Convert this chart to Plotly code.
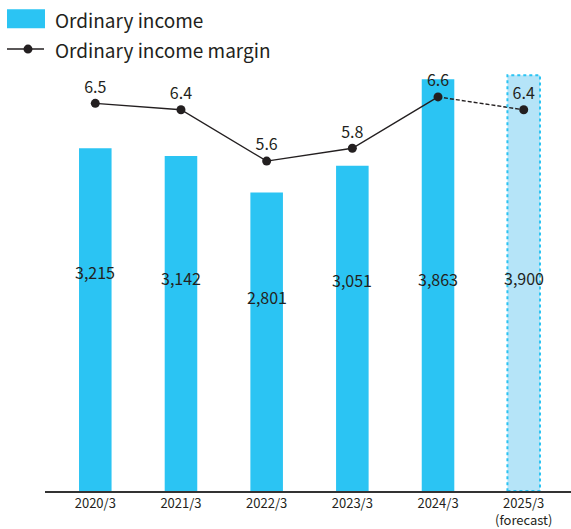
import plotly.graph_objects as go

# Fiscal years (March year-end)
periods = ["2020/3", "2021/3", "2022/3", "2023/3", "2024/3", "2025/3"]
tick_labels = ["2020/3", "2021/3", "2022/3", "2023/3", "2024/3", "2025/3<br>(forecast)"]
ordinary_income = [3215, 3142, 2801, 3051, 3863, 3900]
income_margin = [6.5, 6.4, 5.6, 5.8, 6.6, 6.4]
is_forecast = [False, False, False, False, False, True]
# heights (in income units) where the value labels sit inside the bars
label_heights = [2054, 1998, 1821, 1979, 1989, 1998]

FONT = "Noto Sans CJK JP"
BLUE = "#2bc4f3"
LIGHT_BLUE = "#b5e4f8"
INK = "#231f20"
BAR_W = 0.38
PLOT_W, PLOT_H = 526, 433

x_idx = list(range(len(periods)))
actual = [i for i in x_idx if not is_forecast[i]]
fc = [i for i in x_idx if is_forecast[i]]

fig = go.Figure()

fig.add_trace(go.Bar(
    x=actual, y=[ordinary_income[i] for i in actual],
    width=BAR_W, marker=dict(color=BLUE, line=dict(width=0)),
    showlegend=False, hoverinfo="skip",
))
fig.add_trace(go.Bar(
    x=fc, y=[ordinary_income[i] for i in fc],
    width=BAR_W, marker=dict(color=LIGHT_BLUE, line=dict(width=0)),
    showlegend=False, hoverinfo="skip",
))
# dashed outline around the forecast bar
for i in fc:
    fig.add_shape(type="rect", xref="x", yref="y",
                  x0=i - BAR_W / 2, x1=i + BAR_W / 2, y0=0, y1=ordinary_income[i],
                  line=dict(color=BLUE, width=2, dash="dot"), fillcolor="rgba(0,0,0,0)",
                  layer="above")

# margin line: solid for actuals, dashed into forecast
last_actual = actual[-1]
fig.add_trace(go.Scatter(
    x=actual, y=[income_margin[i] for i in actual], yaxis="y2",
    mode="lines+markers+text",
    line=dict(color=INK, width=1.4),
    marker=dict(color=INK, size=9),
    text=[f"{income_margin[i]:.1f}" for i in actual],
    textposition="top center",
    textfont=dict(family=FONT, size=16, color=INK),
    showlegend=False, hoverinfo="skip", cliponaxis=False,
))
fig.add_trace(go.Scatter(
    x=[last_actual] + fc, y=[income_margin[last_actual]] + [income_margin[i] for i in fc],
    yaxis="y2", mode="lines",
    line=dict(color=INK, width=1.4, dash="4px,2px"),
    showlegend=False, hoverinfo="skip",
))
fig.add_trace(go.Scatter(
    x=fc, y=[income_margin[i] for i in fc], yaxis="y2",
    mode="markers+text",
    marker=dict(color=INK, size=9),
    text=[f"{income_margin[i]:.1f}" for i in fc],
    textposition="top center",
    textfont=dict(family=FONT, size=16, color=INK),
    showlegend=False, hoverinfo="skip", cliponaxis=False,
))

# value labels inside the bars
for i in x_idx:
    fig.add_annotation(
        x=i, y=label_heights[i], text=f"{ordinary_income[i]:,}",
        showarrow=False, font=dict(family=FONT, size=16, color=INK),
    )

# legend drawn in the top-left corner
fig.add_shape(type="rect", xref="paper", yref="paper",
              x0=-38 / PLOT_W, x1=0 / PLOT_W, y0=1 + 32 / PLOT_H, y1=1 + 51 / PLOT_H,
              fillcolor=BLUE, line=dict(width=0))
fig.add_annotation(xref="paper", yref="paper", x=8 / PLOT_W, y=1 + 41 / PLOT_H,
                   xanchor="left", yanchor="middle", showarrow=False,
                   text="Ordinary income", font=dict(family=FONT, size=19, color=INK))
fig.add_shape(type="line", xref="paper", yref="paper",
              x0=-38 / PLOT_W, x1=-1 / PLOT_W, y0=1 + 11 / PLOT_H, y1=1 + 11 / PLOT_H,
              line=dict(color=INK, width=1.6))
fig.add_shape(type="circle", xref="paper", yref="paper",
              x0=-21.5 / PLOT_W, x1=-12.5 / PLOT_W, y0=1 + 6.5 / PLOT_H, y1=1 + 15.5 / PLOT_H,
              fillcolor=INK, line=dict(width=0))
fig.add_annotation(xref="paper", yref="paper", x=8 / PLOT_W, y=1 + 11 / PLOT_H,
                   xanchor="left", yanchor="middle", showarrow=False,
                   text="Ordinary income margin", font=dict(family=FONT, size=19, color=INK))

fig.update_layout(
    width=571, height=529,
    margin=dict(l=45, r=0, t=60, b=36),
    paper_bgcolor="white", plot_bgcolor="white",
    showlegend=False, barmode="overlay",
    font=dict(family=FONT, color=INK),
    xaxis=dict(
        range=[-0.587, 5.552], tickmode="array", tickvals=x_idx, ticktext=tick_labels,
        showgrid=False, zeroline=False, showline=True, linecolor="#333333", linewidth=1.5,
        ticks="", tickfont=dict(family=FONT, size=13, color=INK),
    ),
    yaxis=dict(range=[0, 4043], visible=False, showgrid=False, zeroline=False),
    yaxis2=dict(range=[0.462, 7.175], overlaying="y", visible=False,
                showgrid=False, zeroline=False),
)

fig.write_html("out.html")
